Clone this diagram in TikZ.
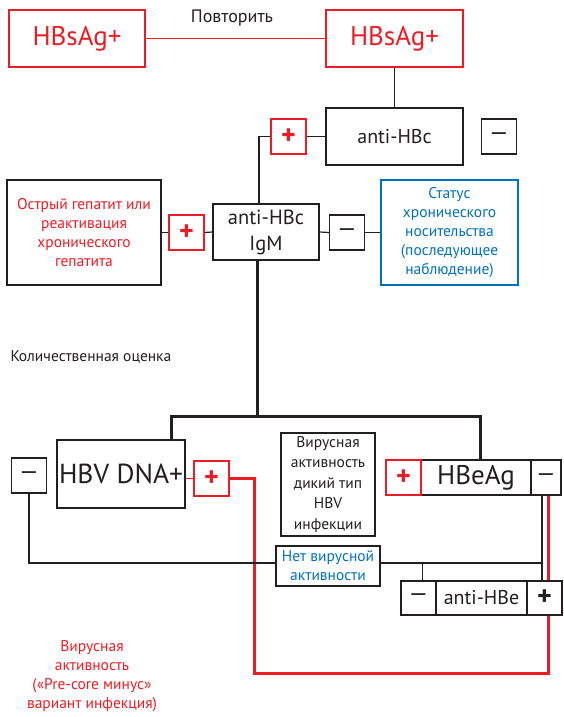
\documentclass[tikz,border=0pt]{standalone}
\usepackage{fontspec}
\setmainfont{PT Sans}
\definecolor{hbred}{RGB}{237,28,36}
\definecolor{hbblue}{RGB}{0,114,188}
\definecolor{hbtext}{RGB}{35,31,32}
\tikzset{
  box/.style={draw=hbtext, line width=1.2pt, fill=white, inner sep=0pt, align=center, text=hbtext},
  redbox/.style={box, draw=hbred, text=hbred},
  negsign/.style={box, minimum width=35pt, minimum height=35pt, font=\fontsize{24}{24}\selectfont},
  possign/.style={negsign, font=\fontsize{28}{28}\selectfont\bfseries},
  small/.style={font=\fontsize{15.5}{19}\selectfont},
  conn/.style={line width=1.2pt, hbtext},
  bigconn/.style={line width=3pt, hbtext},
  redconn/.style={line width=1.2pt, hbred},
  bigred/.style={line width=3pt, hbred},
}
\begin{document}
\begin{tikzpicture}[x=1pt,y=-1pt]
\useasboundingbox (0,0) rectangle (563,717);

% HBsAg, repeated
\node[redbox, minimum width=136pt, minimum height=57pt, font=\fontsize{27}{27}\selectfont] (hbsL) at (77,38.5) {HBsAg+};
\node[redbox, minimum width=137pt, minimum height=57pt, font=\fontsize{27}{27}\selectfont] (hbsR) at (394.5,38.5) {HBsAg+};
\node[text=hbtext, font=\fontsize{18}{18}\selectfont] (repeat) at (232,18) {Повторить};
\draw[redconn] (hbsL.east) -- (hbsR.west);

% anti-HBc
\node[box, minimum width=137pt, minimum height=57pt, font=\fontsize{20}{20}\selectfont] (ahbc) at (394.5,136.5) {anti-HBc};
\node[possign, draw=hbred, text=hbred] (ahbcP) at (288.5,136.5) {+};
\node[negsign] (ahbcM) at (499,136.5) {—};
\draw[conn] (hbsR.south) -- (ahbc.north);
\draw[conn] (ahbc.west) -- (ahbcP.east);

% anti-HBc IgM
\node[box, minimum width=106pt, minimum height=56pt, font=\fontsize{20.5}{26}\selectfont] (igm) at (266,232) {anti-HBc\\IgM};
\node[possign, draw=hbred, text=hbred] (igmP) at (186.5,232.5) {+};
\node[negsign] (igmM) at (347,232.5) {—};
\node[box, small, text=hbred, minimum width=154pt, minimum height=105pt] (acute) at (84,232.5)
  {Острый гепатит или\\реактивация\\хронического\\гепатита};
\node[box, small, draw=hbblue, text=hbblue, minimum width=137pt, minimum height=105pt] (carrier) at (449.5,232.5)
  {Статус\\хронического\\носительства\\(последующее\\наблюдение)};
\draw[conn] (ahbcP.west) -| ([xshift=-7pt]igm.north);
\draw[conn] (acute.east) -- (igmP.west);
\draw[conn] (igmP.east) -- (igm.west);
\draw[conn] (igm.east) -- (igmM.west);
\draw[conn] (igmM.east) -- (carrier.west);

\node[anchor=west, small, text=hbtext] (quant) at (7,357) {Количественная оценка};

% HBV DNA and HBeAg
\node[box, minimum width=128pt, minimum height=68pt, font=\fontsize{27.5}{27.5}\selectfont] (dna) at (121,474) {HBV DNA+};
\node[negsign] (dnaM) at (29,475.5) {—};
\node[possign, draw=hbred, text=hbred] (dnaP) at (211.5,478.5) {+};
\node[box, small, minimum width=94pt, minimum height=103pt, font=\fontsize{15.5}{20.5}\selectfont] (wild) at (328,484.5)
  {Вирусная\\активность\\дикий тип\\HBV\\инфекции};
\node[box, minimum width=110pt, minimum height=35pt, font=\fontsize{27}{27}\selectfont] (eag) at (476,477.5) {HBeAg};
\node[possign, draw=hbred, text=hbred] (eagP) at (403.5,477.5) {+};
\node[negsign, minimum width=30pt] (eagM) at (546,477.5) {—};

\coordinate (split) at (257,416);
\coordinate (brL) at (171,416);
\coordinate (brR) at (480,416);
\draw[bigconn] (igm.south -| split) -- (split);
\draw[bigconn] (brL |- dna.north) -- (brL) -- (brR) -- (brR |- eag.north);

% anti-HBe
\node[box, small, text=hbblue, minimum width=104pt, minimum height=40pt] (novir) at (328,566) {Нет вирусной\\активности};
\node[negsign, minimum height=34pt] (aheM) at (418.5,598) {—};
\node[box, minimum width=91pt, minimum height=34pt, font=\fontsize{20}{20}\selectfont] (ahe) at (481.5,598) {anti-HBe};
\node[possign, minimum height=34pt] (aheP) at (544.5,598) {+};
\node[small, text=hbred, align=center] (precore) at (92,676)
  {Вирусная\\активность\\(«Pre-core минус»\\вариант инфекция)};

\coordinate (jn) at (542,563);
\coordinate (rc1) at (254,673);
\coordinate (rc2) at (548,673);
\draw[redconn] (dna.east |- dnaP.west) -- (dnaP.west);
\draw[bigred] (dnaP.east) -| (rc1) -- (rc2) -- (rc2 |- aheP.south);
\draw[bigred] (rc2 |- eagM.south) -- (rc2 |- aheP.north);
\draw[conn] (dnaM.south) |- (novir.west |- jn);
\draw[conn] (novir.east |- jn) -- (jn);
\draw[conn] (jn |- eagM.south) -- (jn |- aheP.north);
\draw[conn] ([xshift=4pt]aheM.north |- jn) -- ([xshift=4pt]aheM.north);
\end{tikzpicture}
\end{document}
